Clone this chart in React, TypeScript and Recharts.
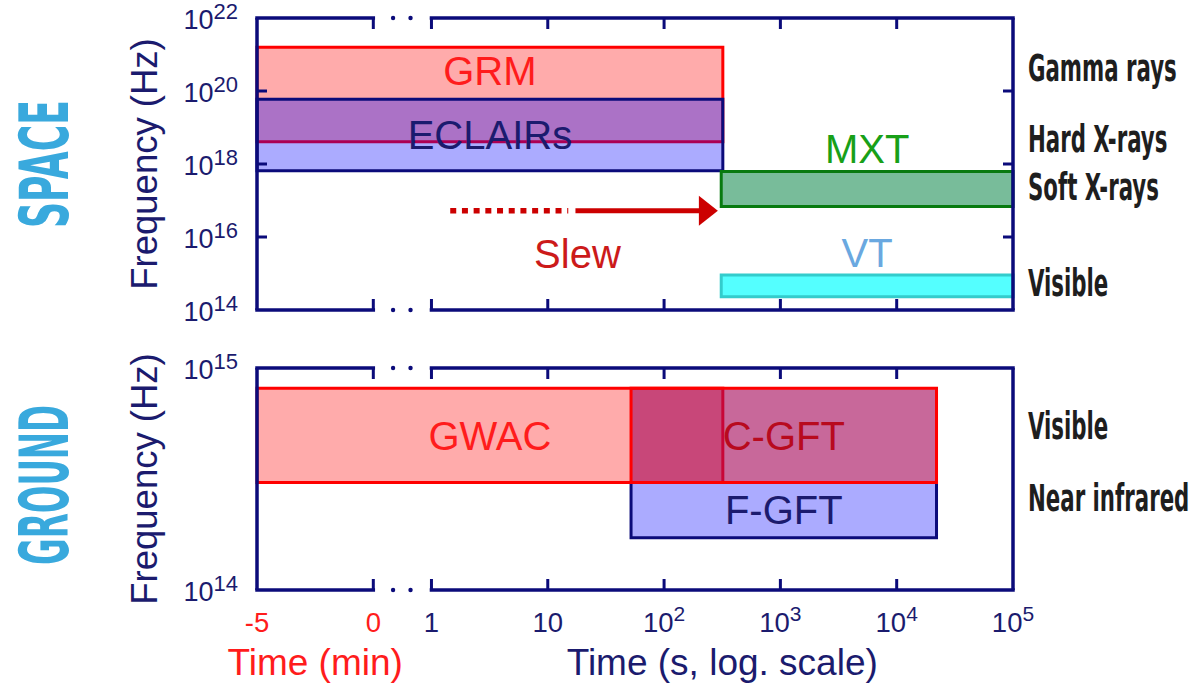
import { ComposedChart, XAxis, YAxis, Scatter, ReferenceArea, ReferenceLine, ReferenceDot } from 'recharts';

const NAVY = '#0b0b7a';
const NAVY_TEXT = '#1b1b6e';
const RED_TEXT = '#ff1c1c';
const SLEW = '#cc0000';
const NARROW = "'Liberation Sans Narrow', 'DejaVu Sans Condensed', 'Liberation Sans', sans-serif";

// times are in seconds after the trigger; negative values live on the -5..0 min strip
const xTickTimes = [-300, 0, 1, 10, 100, 1000, 10000, 100000];
const gapDots = [1.17, 1.32]; // axis units, inside the axis break

const spaceNames = ['GRM', 'ECLAIRs', 'MXT', 'VT'];
const spaceStart = [-300, -300, 310, 310];
const spaceEnd = [320, 320, 100000, 100000];
const spaceLow = [4.1e18, 6.5e17, 6.8e16, 2.3e14];
const spaceHigh = [1.57e21, 5.9e19, 6.2e17, 9.1e14];
const spaceFreqTicks = [1e14, 1e16, 1e18, 1e20, 1e22];
const spaceBands = ['Gamma rays', 'Hard X-rays', 'Soft X-rays', 'Visible'];
const spaceBandFreq = [4.4e20, 4.7e18, 2.3e17, 5.6e14];

const groundNames = ['F-GFT', 'GWAC', 'C-GFT'];
const groundStart = [52, -300, 52];
const groundEnd = [22000, 320, 22000];
const groundLow = [1.72e14, 3.05e14, 3.05e14];
const groundHigh = [3.05e14, 8.1e14, 8.1e14];
const groundFreqTicks = [1e14, 1e15];
const groundBands = ['Visible', 'Near infrared'];
const groundBandFreq = [5.5e14, 2.6e14];

const slewDotted = [1.45, 15];
const slewSolid = [17.3, 290];
const slewFreq = 5.25e16;
const slewLabelAt = [18, 3.4e15];

const boxStyle: Record<string, any> = {
  GRM: { fill: '#ff0000', op: 0.33, stroke: '#ff0000', text: RED_TEXT, pos: 'insideTop', offset: 9 },
  ECLAIRs: { fill: '#0000ff', op: 0.33, stroke: NAVY, text: NAVY_TEXT, pos: 'center', offset: 0 },
  MXT: { fill: '#008040', op: 0.53, stroke: '#087a10', text: '#18a018', pos: 'top', offset: 9 },
  VT: { fill: '#00ffff', op: 0.67, stroke: '#33cccc', text: '#6aa8e0', pos: 'top', offset: 8 },
  'F-GFT': { fill: '#0000ff', op: 0.33, stroke: NAVY, text: NAVY_TEXT, pos: 'center', offset: 0 },
  GWAC: { fill: '#ff0000', op: 0.33, stroke: '#ff0000', text: RED_TEXT, pos: 'center', offset: 0 },
  'C-GFT': { fill: 'rgb(165,8,90)', op: 0.61, stroke: '#ff0000', text: '#b80a1e', pos: 'center', offset: 0 },
};

const groupStyle: Record<string, { sx: number; dy: number }> = {
  SPACE: { sx: 0.6, dy: 0 },
  GROUND: { sx: 0.54, dy: 6 },
};

// broken time axis: linear minutes, a gap, then log10 seconds
const MIN_SPAN = 1;
const GAP = 0.5;
function tu(t: number) {
  return t <= 0 ? ((t / 60 + 5) / 5) * MIN_SPAN : MIN_SPAN + GAP + Math.log10(t);
}
const U_MAX = tu(100000);
const xTickU = xTickTimes.map(tu);

function timeLabel(t: number) {
  if (t <= 0) return { base: String(t / 60), sup: '' };
  const e = Math.round(Math.log10(t));
  if (e <= 1) return { base: String(t), sup: '' };
  return { base: '10', sup: String(e) };
}

function XTick(props: any) {
  const { x, y, payload, inward, labels } = props;
  let idx = xTickU.findIndex((u) => Math.abs(u - payload.value) < 1e-6);
  if (idx < 0) idx = props.index;
  const t = xTickTimes[idx];
  const u = tu(t);
  const inner = u > 0.001 && u < U_MAX - 0.001;
  const lab = timeLabel(t);
  return (
    <g>
      {inner && <line x1={x} x2={x} y1={y} y2={y + inward * 11} stroke={NAVY} strokeWidth={3} />}
      {labels && (
        <text x={x} y={y + 42} textAnchor="middle" fontSize={27.5} fill={t <= 0 ? RED_TEXT : NAVY_TEXT}>
          {lab.base}
          {lab.sup && (
            <tspan dy={-11} fontSize={21}>
              {lab.sup}
            </tspan>
          )}
        </text>
      )}
    </g>
  );
}

function YTick(props: any) {
  const { x, y, payload, side, lo, hi, labels } = props;
  const v = payload.value;
  const inner = v > lo * 1.01 && v < hi / 1.01;
  const e = Math.round(Math.log10(v));
  const d = side === 'left' ? 1 : -1;
  return (
    <g>
      {inner && <line x1={x} x2={x + d * 10} y1={y} y2={y} stroke={NAVY} strokeWidth={3} />}
      {labels && (
        <text x={x - 19} y={y + 11} textAnchor="end" fontSize={27} fill={NAVY_TEXT}>
          10
          <tspan dy={-10} fontSize={22}>
            {e}
          </tspan>
        </text>
      )}
    </g>
  );
}

function BandTick(props: any) {
  const { x, y, payload, names, freqs } = props;
  const i = freqs.indexOf(payload.value);
  return (
    <g transform={`translate(${x}, ${y + 13}) scale(0.64, 1)`}>
      <text x={0} y={0} fontSize={37} fontWeight="bold" fontFamily={NARROW} fill="#1e1e1e">
        {names[i]}
      </text>
    </g>
  );
}

function SideTitle({ vb, group }: any) {
  const cy = vb.y + vb.height / 2;
  const g = groupStyle[group];
  return (
    <g>
      <text transform={`translate(${vb.x + 157}, ${cy}) rotate(-90)`} textAnchor="middle" fontSize={36.5} fill={NAVY_TEXT}>
        Frequency (Hz)
      </text>
      <g transform={`translate(${vb.x + 68}, ${cy + g.dy}) rotate(-90) scale(${g.sx}, 1)`}>
        <text x={0} y={0} textAnchor="middle" fontSize={67} fontWeight="bold" fontFamily={NARROW} fill="#39a9dd">
          {group}
        </text>
      </g>
    </g>
  );
}

function TimeTitles({ vb }: any) {
  const px = (u: number) => vb.x + (u / U_MAX) * vb.width;
  const minMid = (tu(-300) + tu(0)) / 2;
  const secMid = (tu(1) + tu(100000)) / 2;
  return (
    <g>
      <text x={px(minMid)} y={vb.y + 85} textAnchor="middle" fontSize={37} fill={RED_TEXT}>
        Time (min)
      </text>
      <text x={px(secMid)} y={vb.y + 85} textAnchor="middle" fontSize={37} fill={NAVY_TEXT}>
        Time (s, log. scale)
      </text>
    </g>
  );
}

function ArrowShape(props: any) {
  const { x1, y1, x2, y2 } = props;
  const head = 19;
  const half = 15;
  return (
    <g>
      <line x1={x1} y1={y1} x2={x2 - head + 1} y2={y2} stroke={SLEW} strokeWidth={5} />
      <polygon points={`${x2},${y2} ${x2 - head},${y2 - half} ${x2 - head},${y2 + half}`} fill={SLEW} />
    </g>
  );
}

const NoShape = () => <g />;

type PanelProps = {
  height: number;
  topH: number;
  bottomH: number;
  domain: [number, number];
  freqTicks: number[];
  names: string[];
  start: number[];
  end: number[];
  low: number[];
  high: number[];
  bands: string[];
  bandFreq: number[];
  group: string;
  timeLabels: boolean;
  slew?: boolean;
};

function Panel(p: PanelProps) {
  const [lo, hi] = p.domain;
  // box corners, used only to give the axes a data extent
  const corners = p.names.flatMap((_, i) => [
    { u: tu(p.start[i]), f: p.low[i] },
    { u: tu(p.end[i]), f: p.high[i] },
  ]);
  const edge = (y: number) => [
    <ReferenceLine
      key={`a${y}`}
      xAxisId="x"
      yAxisId="y"
      segment={[{ x: 0, y }, { x: tu(0), y }]}
      stroke={NAVY}
      strokeWidth={3.5}
      strokeLinecap="square"
      ifOverflow="visible"
    />,
    <ReferenceLine
      key={`b${y}`}
      xAxisId="x"
      yAxisId="y"
      segment={[{ x: tu(1), y }, { x: U_MAX, y }]}
      stroke={NAVY}
      strokeWidth={3.5}
      strokeLinecap="square"
      ifOverflow="visible"
    />,
    ...gapDots.map((u) => (
      <ReferenceDot key={`d${y}${u}`} xAxisId="x" yAxisId="y" x={u} y={y} r={2.2} fill={NAVY} stroke="none" ifOverflow="visible" />
    )),
  ];
  return (
    <ComposedChart width={1194} height={p.height} margin={{ top: 0, right: 0, bottom: 0, left: 0 }}>
      <XAxis
        xAxisId="x"
        dataKey="u"
        type="number"
        domain={[0, U_MAX]}
        ticks={xTickU}
        interval={0}
        orientation="bottom"
        height={p.bottomH}
        axisLine={false}
        tickLine={false}
        tickSize={0}
        tickMargin={0}
        tick={<XTick inward={-1} labels={p.timeLabels} />}
        label={p.timeLabels ? (lp: any) => <TimeTitles vb={lp.viewBox ?? lp} /> : undefined}
        allowDataOverflow
      />
      <XAxis
        xAxisId="xt"
        dataKey="u"
        type="number"
        domain={[0, U_MAX]}
        ticks={xTickU}
        interval={0}
        orientation="top"
        height={p.topH}
        axisLine={false}
        tickLine={false}
        tickSize={0}
        tickMargin={0}
        tick={<XTick inward={1} labels={false} />}
        allowDataOverflow
      />
      <YAxis
        yAxisId="y"
        dataKey="f"
        type="number"
        scale="log"
        domain={p.domain}
        ticks={p.freqTicks}
        interval={0}
        width={257}
        axisLine={{ stroke: NAVY, strokeWidth: 3.5 }}
        tickLine={false}
        tickSize={0}
        tickMargin={0}
        tick={<YTick side="left" lo={lo} hi={hi} labels />}
        label={(lp: any) => <SideTitle vb={lp.viewBox ?? lp} group={p.group} />}
        allowDataOverflow
      />
      <YAxis
        yAxisId="r1"
        type="number"
        scale="log"
        domain={p.domain}
        ticks={p.freqTicks}
        interval={0}
        orientation="right"
        width={15}
        axisLine={{ stroke: NAVY, strokeWidth: 3.5 }}
        tickLine={false}
        tickSize={0}
        tickMargin={0}
        tick={<YTick side="right" lo={lo} hi={hi} labels={false} />}
        allowDataOverflow
      />
      <YAxis
        yAxisId="r2"
        type="number"
        scale="log"
        domain={p.domain}
        ticks={p.bandFreq}
        interval={0}
        orientation="right"
        width={166}
        axisLine={false}
        tickLine={false}
        tickSize={0}
        tickMargin={0}
        tick={<BandTick names={p.bands} freqs={p.bandFreq} />}
        allowDataOverflow
      />
      <Scatter xAxisId="x" yAxisId="y" data={corners} dataKey="f" shape={NoShape} isAnimationActive={false} legendType="none" />
      <Scatter xAxisId="xt" yAxisId="y" data={corners} dataKey="f" shape={NoShape} isAnimationActive={false} legendType="none" />
      {p.names.map((n, i) => {
        const s = boxStyle[n];
        return (
          <ReferenceArea
            key={n}
            xAxisId="x"
            yAxisId="y"
            x1={tu(p.start[i])}
            x2={tu(p.end[i])}
            y1={p.low[i]}
            y2={p.high[i]}
            fill={s.fill}
            fillOpacity={s.op}
            stroke={s.stroke}
            strokeWidth={3}
            ifOverflow="visible"
            label={{ value: n, position: s.pos, fill: s.text, fontSize: 40, offset: s.offset }}
          />
        );
      })}
      {p.slew && (
        <ReferenceLine
          xAxisId="x"
          yAxisId="y"
          segment={[{ x: tu(slewDotted[0]), y: slewFreq }, { x: tu(slewDotted[1]), y: slewFreq }]}
          stroke={SLEW}
          strokeWidth={5.5}
          strokeDasharray="6 5.7"
          ifOverflow="visible"
        />
      )}
      {p.slew && (
        <ReferenceLine
          xAxisId="x"
          yAxisId="y"
          segment={[{ x: tu(slewSolid[0]), y: slewFreq }, { x: tu(slewSolid[1]), y: slewFreq }]}
          stroke={SLEW}
          shape={ArrowShape}
          ifOverflow="visible"
        />
      )}
      {p.slew && (
        <ReferenceDot
          xAxisId="x"
          yAxisId="y"
          x={tu(slewLabelAt[0])}
          y={slewLabelAt[1]}
          r={0}
          fill="none"
          stroke="none"
          ifOverflow="visible"
          label={{ value: 'Slew', position: 'center', fill: '#cc1a1a', fontSize: 40 }}
        />
      )}
      {edge(hi)}
      {edge(lo)}
    </ComposedChart>
  );
}

export default function App() {
  return (
    <div
      style={{
        position: 'absolute',
        left: 0,
        top: 0,
        width: 1194,
        height: 696,
        background: '#fff',
        fontFamily: "'Liberation Sans', Arial, sans-serif",
      }}
    >
      <div style={{ position: 'absolute', left: 0, top: 0 }}>
        <Panel
          height={340}
          topH={18}
          bottomH={30}
          domain={[1e14, 1e22]}
          freqTicks={spaceFreqTicks}
          names={spaceNames}
          start={spaceStart}
          end={spaceEnd}
          low={spaceLow}
          high={spaceHigh}
          bands={spaceBands}
          bandFreq={spaceBandFreq}
          group="SPACE"
          timeLabels={false}
          slew
        />
      </div>
      <div style={{ position: 'absolute', left: 0, top: 340 }}>
        <Panel
          height={356}
          topH={28}
          bottomH={106}
          domain={[1e14, 1e15]}
          freqTicks={groundFreqTicks}
          names={groundNames}
          start={groundStart}
          end={groundEnd}
          low={groundLow}
          high={groundHigh}
          bands={groundBands}
          bandFreq={groundBandFreq}
          group="GROUND"
          timeLabels
        />
      </div>
    </div>
  );
}
